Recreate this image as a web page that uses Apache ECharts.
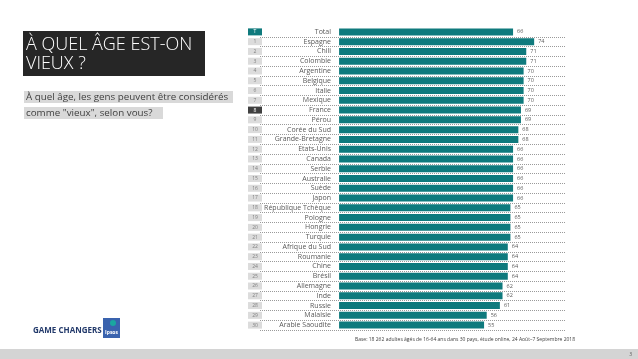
<!DOCTYPE html>
<html>
<head>
<meta charset="utf-8">
<style>html,body{margin:0;padding:0;background:#fff;}#c{width:638px;height:359px;}</style>
<script src="https://cdn.jsdelivr.net/npm/echarts@6/dist/echarts.min.js"></script>
</head>
<body>
<div id="c"></div>
<script>
var ranks = ['T','1','2','3','4','5','6','7','8','9','10','11','12','13','14','15','16','17','18','19','20','21','22','23','24','25','26','27','28','29','30'];
var countries = ['Total','Espagne','Chili','Colombie','Argentine','Belgique','Italie','Mexique','France','Pérou','Corée du Sud','Grande-Bretagne','Etats-Unis','Canada','Serbie','Australie','Suède','Japon','République Tchèque','Pologne','Hongrie','Turquie','Afrique du Sud','Roumanie','Chine','Brésil','Allemagne','Inde','Russie','Malaisie','Arabie Saoudite'];
var values = [66,74,71,71,70,70,70,70,69,69,68,68,66,66,66,66,66,66,65,65,65,65,64,64,64,64,62,62,61,56,55];

var FONT = '"Open Sans", "Noto Sans", sans-serif';
var chart = echarts.init(document.getElementById('c'), null, {renderer: 'canvas'});

var option = {
  backgroundColor: '#ffffff',
  animation: false,
  grid: {left: 260, right: 73, top: 27, height: 303},
  xAxis: {
    type: 'value', min: -30, max: 85.7,
    axisLine: {show: false}, axisTick: {show: false}, axisLabel: {show: false}, splitLine: {show: false}
  },
  yAxis: {
    type: 'category', inverse: true, data: countries,
    offset: -79,
    axisLine: {show: false, onZero: false}, axisTick: {show: false},
    splitLine: {
      show: true,
      interval: function (i) { return i !== 0; },
      lineStyle: {color: '#9a9a9a', type: [1, 1], width: 1}
    },
    axisLabel: {
      margin: 8,
      interval: 0,
      formatter: function (v, i) {
        var style = i === 0 ? 'rt' : (ranks[i] === '8' ? 'rf' : 'r');
        return '{' + style + '|' + ranks[i] + '}{n|' + v + '}';
      },
      rich: {
        r: {width: 14, height: 7, lineHeight: 7, align: 'center', backgroundColor: '#dcdcdc', color: '#7f7f7f', fontSize: 5, fontFamily: FONT},
        rt: {width: 14, height: 7, lineHeight: 7, align: 'center', backgroundColor: '#0f7a7d', color: '#ffffff', fontSize: 5, fontFamily: FONT},
        rf: {width: 14, height: 7, lineHeight: 7, align: 'center', backgroundColor: '#404040', color: '#ffffff', fontSize: 5, fontFamily: FONT},
        n: {width: 69, align: 'right', color: '#595959', fontSize: 7, fontFamily: FONT}
      }
    }
  },
  series: [{
    type: 'bar',
    data: values,
    barWidth: 7,
    itemStyle: {color: '#0f7a7d'},
    label: {show: true, position: 'right', distance: 4, color: '#595959', fontSize: 5.5, fontFamily: FONT}
  }],
  graphic: [
    {type: 'rect', shape: {x: 0, y: 349, width: 638, height: 10}, style: {fill: '#d4d4d4'}, silent: true},
    {type: 'text', x: 632, y: 355, style: {text: '3', fill: '#595959', fontSize: 5, fontFamily: FONT, align: 'right', verticalAlign: 'middle'}},
    {type: 'rect', shape: {x: 23, y: 31, width: 182, height: 45}, style: {fill: '#262626'}},
    {type: 'text', x: 26, y: 35, style: {text: 'À QUEL ÂGE EST-ON\nVIEUX ?', fill: '#ffffff', fontSize: 18, lineHeight: 19, fontFamily: FONT, fontWeight: 300}},
    {type: 'rect', shape: {x: 24, y: 91, width: 209, height: 12}, style: {fill: '#d9d9d9'}},
    {type: 'rect', shape: {x: 24, y: 107, width: 139, height: 12}, style: {fill: '#d9d9d9'}},
    {type: 'text', x: 26, y: 97, style: {text: 'À quel âge, les gens peuvent être considérés', fill: '#404040', fontSize: 9.8, fontFamily: FONT, verticalAlign: 'middle'}},
    {type: 'text', x: 26, y: 113, style: {text: 'comme "vieux", selon vous?', fill: '#404040', fontSize: 9.8, fontFamily: FONT, verticalAlign: 'middle'}},
    {type: 'text', x: 465, y: 340, style: {text: 'Base: 18 262 adultes âgés de 16-64 ans dans 30 pays, étude online, 24 Août–7 Septembre 2018', fill: '#404040', fontSize: 5, fontFamily: FONT, align: 'center', verticalAlign: 'middle'}},
    {type: 'text', x: 33, y: 331, style: {text: 'GAME CHANGERS', fill: '#233a6b', fontSize: 8, fontWeight: 'bold', fontFamily: FONT, verticalAlign: 'middle'}},
    {type: 'rect', shape: {x: 103, y: 318, width: 17, height: 20}, style: {fill: '#3a63ae'}},
    {type: 'circle', shape: {cx: 113, cy: 323, r: 3}, style: {fill: '#1aa7a0'}},
    {type: 'text', x: 111.5, y: 333, style: {text: 'Ipsos', fill: '#ffffff', fontSize: 5, fontWeight: 'bold', fontFamily: FONT, align: 'center', verticalAlign: 'middle'}}
  ]
};
chart.setOption(option);
</script>
</body>
</html>
